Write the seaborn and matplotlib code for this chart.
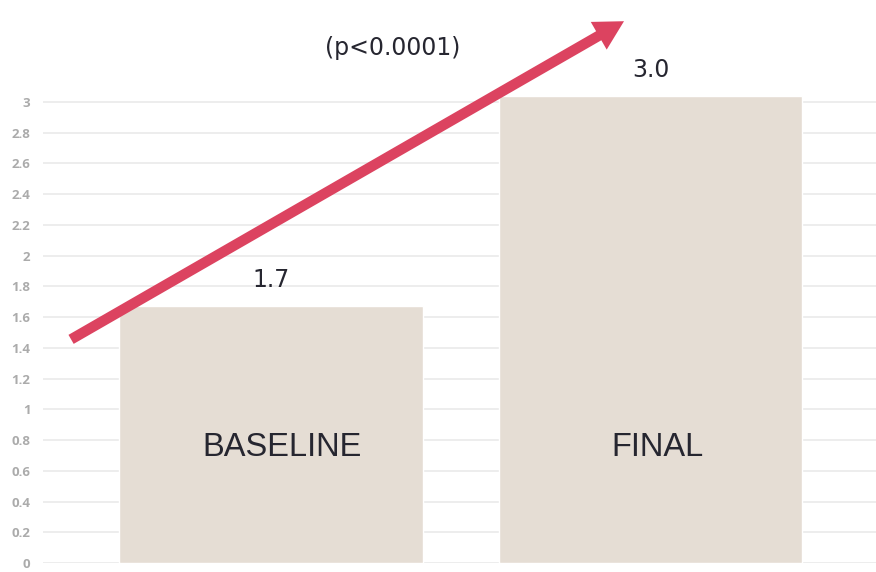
import matplotlib
matplotlib.use("Agg")
import matplotlib.pyplot as plt
import seaborn as sns
import pandas as pd

# Data
categories = ["BASELINE", "FINAL"]
scores = [1.67, 3.04]
yticks = [0, 0.2, 0.4, 0.6, 0.8, 1, 1.2, 1.4, 1.6, 1.8, 2, 2.2, 2.4, 2.6, 2.8, 3]
p_label = "(p<0.0001)"

bar_color = "#E5DDD4"
arrow_color = "#DC4360"
text_color = "#262630"
tick_color = "#ABABAB"
grid_color = "#ECECEC"

sns.set_theme(style="white")
plt.rcParams["font.family"] = ["Liberation Sans", "DejaVu Sans"]

W, H = 876, 572
fig = plt.figure(figsize=(W / 100, H / 100), dpi=100)
ax = fig.add_axes([43 / W, 9 / H, 833 / W, 563 / H])

df = pd.DataFrame({"phase": categories, "score": scores})
sns.barplot(data=df, x="phase", y="score", color=bar_color, saturation=1,
            width=0.8, ax=ax, zorder=2)

ax.set_xlim(-0.601, 1.594)
ax.set_ylim(0, 3.663)
ax.set_yticks(yticks)
ax.set_yticklabels([f"{t:g}" for t in yticks], color=tick_color,
                   fontsize=9.5, fontweight="bold",
                   family=["Open Sans", "DejaVu Sans"])
ax.tick_params(axis="y", length=0, pad=9)
for lbl in ax.get_yticklabels():
    lbl.set_va("center_baseline")
ax.set_xticks([])
ax.set_xlabel("")
ax.set_ylabel("")
for s in ax.spines.values():
    s.set_visible(False)
ax.yaxis.grid(True, color=grid_color, linewidth=1.3, zorder=0)
ax.set_axisbelow(True)

# value labels above bars and category names inside bars
name_dx = [0.03, 0.017]
for i, (cat, v) in enumerate(zip(categories, scores)):
    ax.text(i, v + 0.17, f"{v:.1f}", ha="center", va="center",
            fontsize=17, color=text_color, family=["DejaVu Sans"])
    ax.text(i + name_dx[i], 0.75, cat, ha="center", va="center",
            fontsize=23.5, color=text_color)

ax.text(0.32, 3.35, p_label, ha="center", va="center", fontsize=17,
        color=text_color, family=["DejaVu Sans"])

# trend arrow from baseline to final
ax.annotate("", xy=(0.93, 3.525), xytext=(-0.527, 1.455),
            arrowprops=dict(arrowstyle="simple,head_length=21,head_width=23,tail_width=7.5",
                            mutation_scale=1, lw=0, color=arrow_color,
                            shrinkA=0, shrinkB=0),
            zorder=5)

fig.savefig("out.png", dpi=100, facecolor="white")
